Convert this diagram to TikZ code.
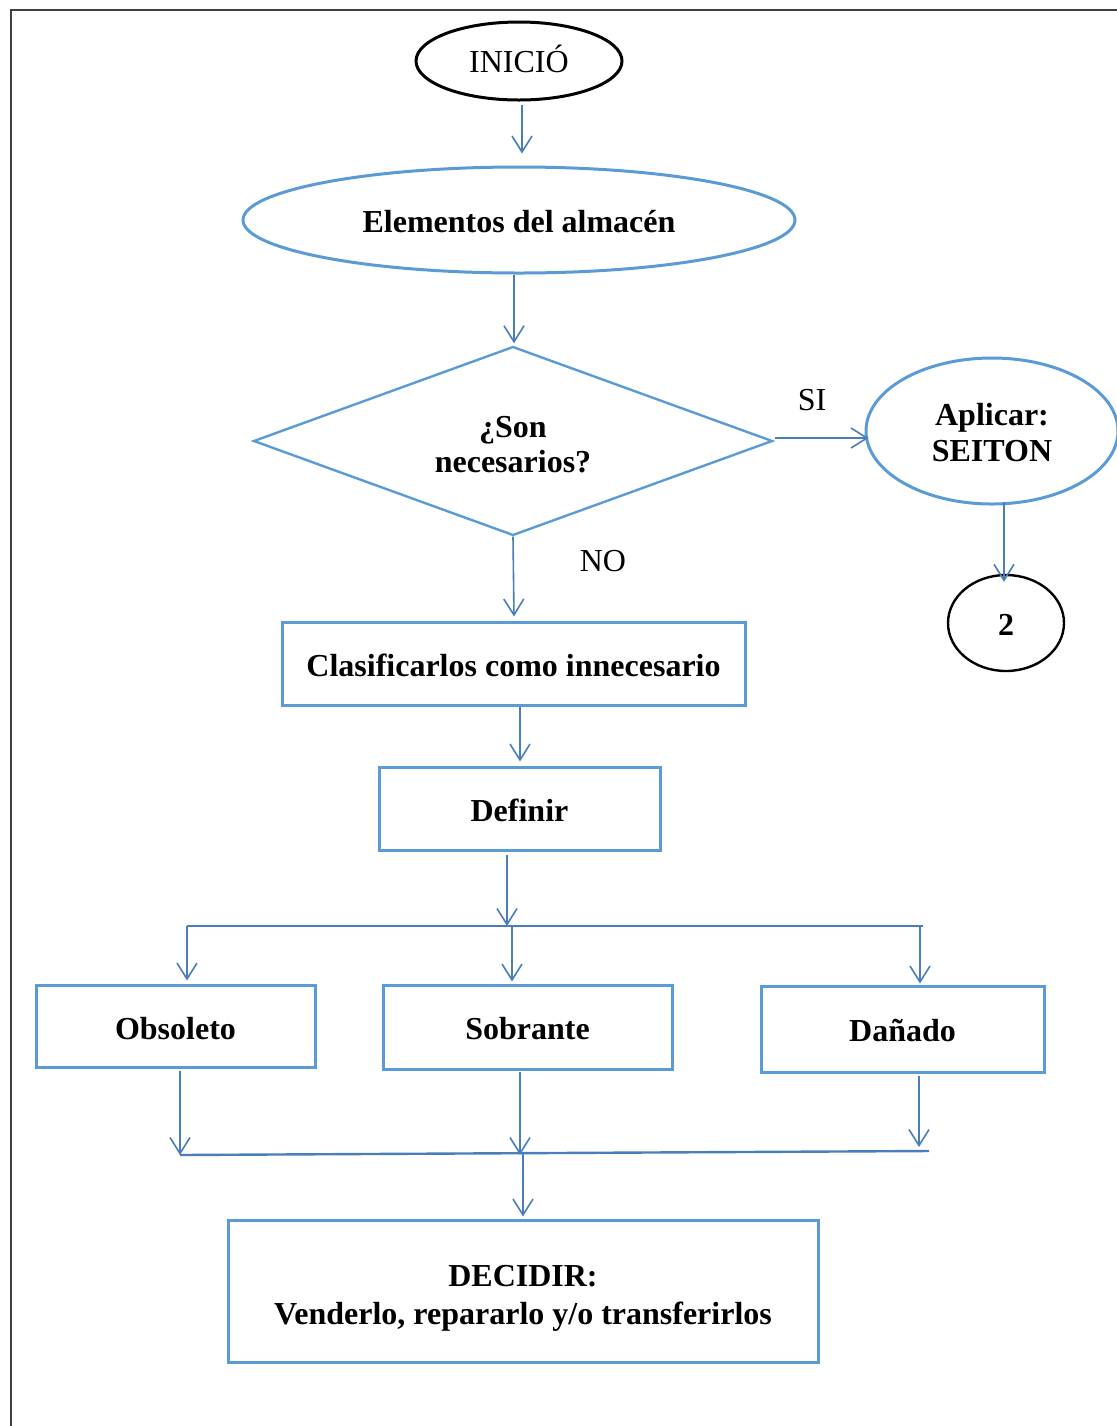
\documentclass[tikz,border=0pt]{standalone}
\usepackage{fontspec}
\setmainfont{Liberation Serif}
\usetikzlibrary{shapes.geometric,arrows.meta,calc}
\definecolor{shapeblue}{HTML}{5B9BD5}
\definecolor{linkblue}{HTML}{4A7EBB}
\definecolor{framegray}{HTML}{404040}
% two centred lines, baseline on the first one
\newcommand\twolines[2]{\begin{tabular}[t]{@{}c@{}}#1\\#2\end{tabular}}
\begin{document}
\begin{tikzpicture}[x=0.5pt,y=-0.5pt,
  every node/.style={font=\fontsize{16}{18.5}\selectfont, inner sep=0pt},
  bluebox/.style={draw=shapeblue, line width=1.5pt, rectangle, font=\bfseries\fontsize{16}{19}\selectfont,
                  text height=12.8pt, text depth=0pt},
  blueoval/.style={draw=shapeblue, line width=1.5pt, ellipse, font=\bfseries\fontsize{16}{18.5}\selectfont},
  blackoval/.style={draw=black, line width=1.5pt, ellipse},
  arr/.style={draw=linkblue, line width=0.8pt, -{Straight Barb[length=8pt,width=10pt]}},
  rail/.style={draw=linkblue, line width=1.2pt},
]
\useasboundingbox (0,0) rectangle (1117,1426);

% page frame
\draw[framegray, line width=1pt] (11,1426) -- (11,10) -- (1117,10);

% shapes
\node[blackoval, minimum width=103pt, minimum height=39pt, text height=11.7pt, text depth=0pt] (inicio) at (519,61) {INICIÓ};
\node[blueoval, minimum width=276pt, minimum height=53pt, text height=12.7pt, text depth=0pt] (elem) at (519,220) {Elementos del almacén};
\node[draw=shapeblue, line width=1.2pt, diamond, aspect=2.75, minimum width=259.5pt, minimum height=94.5pt,
      font=\bfseries\fontsize{16}{17.5}\selectfont, text height=7pt, text depth=10.7pt] (dia) at (513,441) {\twolines{¿Son}{necesarios?}};
\node[blueoval, minimum width=126pt, minimum height=73pt, font=\bfseries\fontsize{16}{18.35}\selectfont,
      text height=8pt, text depth=14pt] (seiton) at (992,431) {\twolines{Aplicar:}{SEITON}};
\node[blackoval, line width=1.2pt, minimum width=58pt, minimum height=48pt, font=\bfseries\fontsize{16}{18}\selectfont,
      text height=12.5pt, text depth=0pt] (dos) at (1006,623) {2};
\node[bluebox, minimum width=231.5pt, minimum height=41.5pt] (clas) at (513.5,663.5) {Clasificarlos como innecesario};
\node[bluebox, minimum width=140.5pt, minimum height=41.5pt] (def) at (519.5,808.5) {Definir};
\node[bluebox, minimum width=139.5pt, minimum height=41pt, text height=13.3pt] (obs) at (175.5,1026) {Obsoleto};
\node[bluebox, minimum width=144.5pt, minimum height=42pt] (sob) at (527.5,1027) {Sobrante};
\node[bluebox, minimum width=141.5pt, minimum height=43pt] (dan) at (902.5,1029) {Dañado};
\node[bluebox, minimum width=295pt, minimum height=71pt, font=\bfseries\fontsize{16}{19.2}\selectfont,
      text height=7pt, text depth=11.8pt] (dec) at (523,1291) {\twolines{DECIDIR:}{Venderlo, repararlo y/o transferirlos}};

% labels
\node (si) at (812,400) {SI};
\node (no) at (603,561) {NO};

% junction points
\coordinate (brl) at (187,926);
\coordinate (brr) at (923,926);
\coordinate (mgl) at (180,1155);
\coordinate (mgr) at (929,1151);

% connectors
\draw[arr] ($(inicio.south)+(3,3)$) -- ($(elem.north)+(3,-12)$);
\draw[arr] ($(elem.south)+(-5,0)$) -- ($(dia.north)+(1,-2)$);
\draw[arr] ($(dia.east)+(1,-3)$) -- ($(seiton.west)+(4,7)$);
\draw[arr] ($(seiton.south)+(12,-4)$) -- ($(dos.north)+(-2,8)$);
\draw[arr] (dia.south) -- ($(clas.north)+(0.5,-4)$);
\draw[arr] ($(clas.south)+(6.5,0)$) -- ($(def.north)+(0.5,-4)$);
\draw[arr] ($(def.south)+(-12.5,3)$) -- (brl -| 507,0);

% branch rail and drops
\draw[rail] (brl) -- (brr);
\draw[arr] (brl) -- ($(obs.north)+(11.5,-3)$);
\draw[arr] (brl -| 512,0) -- ($(sob.north)+(-15.5,-2)$);
\draw[arr] (brl -| 920,0) -- ($(dan.north)+(17.5,-1)$);

% merge rail
\draw[arr] ($(obs.south)+(4.5,2)$) -- (mgl);
\draw[arr] ($(sob.south)+(-7.5,1)$) -- (520,1155);
\draw[arr] ($(dan.south)+(16.5,2)$) -- (919,1147);
\draw[rail] (mgl) -- (mgr);
\draw[arr] (523,1153) -- ($(dec.north)+(0,-2)$);
\end{tikzpicture}
\end{document}
